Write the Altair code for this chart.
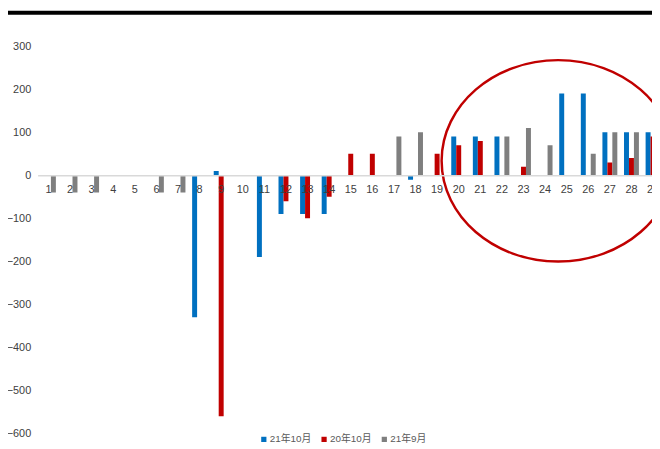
import altair as alt
import pandas as pd

categories = [str(i) for i in range(1, 30)]
series_names = ["21年10月", "20年10月", "21年9月"]
oct21 = [None, None, None, None, None, None, None, -330, 10, None,
         -190, -90, -90, -90, None, None, None, -10, None, 90,
         90, 90, None, None, 190, 190, 100, 100, 100]
oct20 = [None, None, None, None, None, None, None, None, -560, None,
         None, -60, -100, -50, 50, 50, None, None, 50, 70,
         80, None, 20, None, None, None, 30, 40, 90]
sep21 = [-40, -40, -40, None, None, -40, -40, None, None, None,
         None, None, None, None, None, None, 90, 100, None, None,
         None, 90, 110, 70, None, 50, 100, 100, 100]
colors = ["#0070C0", "#C00000", "#7F7F7F"]
y_ticks = list(range(-600, 301, 100))

rows = []
for i, c in enumerate(categories):
    for name, vals in zip(series_names, [oct21, oct20, sep21]):
        if vals[i] is not None:
            rows.append({"day": c, "series": name, "value": vals[i]})
df = pd.DataFrame(rows)

W, H = 634, 392
FONT = "Liberation Sans Narrow, Liberation Sans, Noto Sans CJK SC, sans-serif"
zero_off = -(H - H * 300 / 900)

bars = alt.Chart(df).mark_bar(clip=True).encode(
    x=alt.X("day:N", sort=categories,
            scale=alt.Scale(domain=categories, paddingInner=0.31, paddingOuter=0.155),
            axis=alt.Axis(title=None, orient="bottom", offset=zero_off,
                          domainColor="#D9D9D9", domainWidth=1.5,
                          ticks=False, tickSize=0, labelPadding=8, labelAngle=0,
                          labelFontSize=11, labelColor="#404040", labelFont=FONT,
                          zindex=1)),
    xOffset=alt.XOffset("series:N", sort=series_names,
                        scale=alt.Scale(domain=series_names)),
    y=alt.Y("value:Q", scale=alt.Scale(domain=[-600, 300], nice=False),
            axis=alt.Axis(title=None, values=y_ticks, grid=False, domain=False,
                          ticks=False, tickSize=0, labelPadding=7,
                          labelFontSize=11, labelColor="#404040", labelFont=FONT)),
    color=alt.Color("series:N",
                    scale=alt.Scale(domain=series_names, range=colors),
                    legend=alt.Legend(title=None, orient="none", legendX=224, legendY=393,
                                      direction="horizontal", symbolType="square",
                                      symbolSize=28, labelFontSize=10, labelFont=FONT,
                                      labelColor="#595959", columnPadding=7, labelOffset=1)),
)

ellipse_path = "M -1 0 A 1 0.864 0 1 1 1 0 A 1 0.864 0 1 1 -1 0 Z"
ellipse = alt.Chart(pd.DataFrame({"a": [0]})).mark_point(
    shape=ellipse_path, size=236 * 236, filled=False, stroke="#C00000",
    strokeWidth=2.5, opacity=1
).encode(x=alt.value(527), y=alt.value(116))

topline = alt.Chart(pd.DataFrame({"a": [0]})).mark_rule(
    color="black", strokeWidth=4
).encode(x=alt.value(-30), x2=alt.value(650), y=alt.value(-34))

chart = alt.layer(bars, ellipse, topline).properties(
    width=W, height=H,
    padding={"left": 30, "top": 36, "right": -12, "bottom": 13},
    autosize="none",
    background="white",
).configure_view(stroke=None)

chart.save("out.html", embed_options={"renderer": "svg", "actions": False})
